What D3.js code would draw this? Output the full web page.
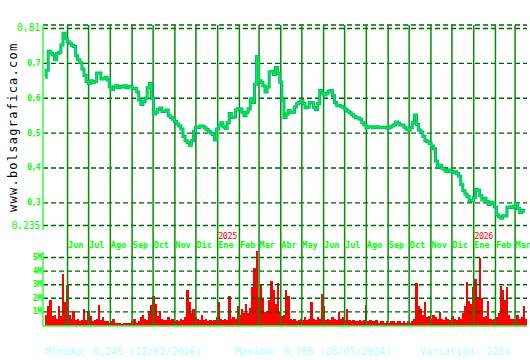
<!DOCTYPE html>
<html>
<head>
<meta charset="utf-8">
<script src="https://cdn.jsdelivr.net/npm/d3@7"></script>
<style>
  body { margin: 0; background: #fff; }
  svg text { font-family: "DejaVu Sans Mono", monospace; }
</style>
</head>
<body>
<div id="chart"></div>
<script>
// data: one sample every 3 days starting 30/04/2024
var startDate = new Date(2024, 3, 30);
var stepDays = 3;

var closes = [
  0.66, 0.68, 0.735, 0.73, 0.724, 0.71, 0.728, 0.732, 0.753, 0.786,
  0.772, 0.762, 0.758, 0.752, 0.748, 0.722, 0.71, 0.702, 0.684, 0.665,
  0.648, 0.642, 0.65, 0.646, 0.648, 0.672, 0.672, 0.655, 0.656, 0.66,
  0.652, 0.633, 0.624, 0.632, 0.636, 0.63, 0.634, 0.632, 0.636, 0.63,
  0.634, 0.632, 0.628, 0.628, 0.618, 0.595, 0.582, 0.59, 0.6, 0.63,
  0.642, 0.6, 0.555, 0.56, 0.568, 0.572, 0.562, 0.563, 0.566, 0.55,
  0.545, 0.54, 0.533, 0.526, 0.52, 0.512, 0.49, 0.478, 0.473, 0.465,
  0.478, 0.505, 0.517, 0.516, 0.52, 0.52, 0.515, 0.51, 0.505, 0.5,
  0.496, 0.48, 0.512, 0.523, 0.53, 0.518, 0.513, 0.53, 0.556, 0.545,
  0.546, 0.566, 0.57, 0.569, 0.56, 0.55, 0.56, 0.57, 0.598, 0.588,
  0.64, 0.72, 0.65, 0.645, 0.636, 0.618, 0.632, 0.675, 0.677, 0.668,
  0.688, 0.671, 0.646, 0.595, 0.545, 0.555, 0.565, 0.56, 0.56, 0.575,
  0.584, 0.588, 0.593, 0.585, 0.573, 0.574, 0.588, 0.587, 0.574, 0.567,
  0.585, 0.622, 0.614, 0.609, 0.614, 0.62, 0.622, 0.608, 0.588, 0.58,
  0.579, 0.576, 0.573, 0.568, 0.563, 0.558, 0.553, 0.548, 0.544, 0.543,
  0.54, 0.53, 0.523, 0.515, 0.518, 0.518, 0.515, 0.517, 0.518, 0.515,
  0.515, 0.517, 0.516, 0.514, 0.517, 0.52, 0.523, 0.532, 0.528, 0.523,
  0.523, 0.517, 0.512, 0.509, 0.515, 0.53, 0.552, 0.525, 0.509, 0.503,
  0.49, 0.478, 0.475, 0.47, 0.463, 0.455, 0.42, 0.404, 0.408, 0.399,
  0.394, 0.39, 0.394, 0.39, 0.387, 0.389, 0.384, 0.376, 0.352, 0.335,
  0.325, 0.318, 0.307, 0.306, 0.315, 0.338, 0.336, 0.32, 0.308, 0.313,
  0.304, 0.295, 0.302, 0.299, 0.288, 0.266, 0.26, 0.256, 0.263, 0.262,
  0.287, 0.288, 0.286, 0.29, 0.298, 0.284, 0.272, 0.278, 0.275
];

// volume in millions
var volumes = [
  0.8, 1.4, 1.9, 0.7, 0.8, 0.5, 1.4, 0.7, 3.8, 1.7,
  3.0, 0.8, 0.5, 1.1, 0.4, 0.5, 0.3, 0.4, 1.2, 0.4,
  1.1, 0.7, 0.3, 0.4, 0.5, 1.5, 0.4, 0.6, 0.3, 0.3,
  0.2, 0.3, 0.5, 0.2, 0.15, 0.15, 0.1, 0.2, 0.15, 0.2,
  0.2, 0.3, 0.5, 0.2, 0.3, 0.6, 0.8, 0.5, 0.4, 1.1,
  1.5, 2.2, 1.6, 0.7, 1.1, 0.5, 0.4, 0.4, 0.6, 0.4,
  0.5, 0.3, 0.4, 0.3, 0.5, 0.4, 0.6, 2.6, 1.7, 0.9,
  1.2, 0.6, 0.5, 0.4, 0.8, 0.4, 0.5, 0.3, 0.4, 0.3,
  0.4, 0.6, 1.7, 0.5, 0.4, 0.5, 0.4, 2.2, 0.5, 0.6,
  0.5, 1.4, 0.8, 1.2, 0.9, 1.6, 0.9, 1.3, 2.85, 4.2,
  5.5, 2.1, 3.0, 2.0, 1.0, 1.1, 1.9, 3.3, 2.6, 1.6,
  3.1, 1.0, 0.7, 0.8, 2.6, 2.2, 0.5, 0.4, 0.5, 0.3,
  0.4, 0.5, 0.4, 0.6, 0.4, 0.5, 1.7, 0.5, 0.4, 0.6,
  0.5, 2.3, 1.4, 0.4, 0.5, 0.4, 0.6, 0.5, 0.4, 1.0,
  0.5, 0.6, 0.4, 1.2, 0.4, 0.3, 0.4, 0.3, 0.3, 0.4,
  0.3, 0.4, 1.5, 0.3, 0.4, 0.3, 0.3, 0.4, 0.2, 0.3,
  0.3, 0.2, 0.3, 0.2, 0.3, 0.3, 0.2, 0.3, 0.3, 0.2,
  0.3, 0.2, 0.3, 0.2, 0.3, 0.5, 3.1, 1.4, 1.2, 0.8,
  1.7, 0.6, 0.7, 0.5, 0.8, 0.6, 0.5, 1.0, 0.5, 0.4,
  0.6, 0.5, 0.4, 0.7, 0.5, 0.4, 0.6, 0.5, 0.9, 1.4,
  3.2, 1.8, 1.6, 2.85, 3.4, 2.1, 5.0, 2.0, 0.6, 0.7,
  1.8, 0.5, 0.4, 0.5, 0.6, 0.9, 2.9, 2.6, 1.9, 2.85,
  0.8, 0.5, 0.5, 0.4, 0.8, 0.5, 0.6, 1.4, 0.5
];

var monthNames = ["Ene", "Feb", "Mar", "Abr", "May", "Jun", "Jul", "Ago", "Sep", "Oct", "Nov", "Dic"];
var priceTicks = [0.81, 0.8, 0.7, 0.6, 0.5, 0.4, 0.3, 0.235];
var priceTickLabels = ["0,81", "", "0,7", "0,6", "0,5", "0,4", "0,3", "0,235"];
var volTicks = [1, 2, 3, 4, 5];
var volTickLabels = ["1M", "2M", "3M", "4M", "5M"];
var summary = ["Minimo: 0,245 (12/02/2026)", "Maximo: 0,786 (28/05/2024)", "Variación: 221%"];
var siteName = "www.bolsagrafica.com";

var width = 530, height = 360;
var plotLeft = 43, plotRight = 527, plotTop = 25;

var svg = d3.select("#chart")
  .append("svg")
    .attr("width", width)
    .attr("height", height);

var dates = closes.map(function(d, i) { return d3.timeDay.offset(startDate, i * stepDays); });

var x = d3.scaleTime()
  .domain([new Date(2024, 3, 27), new Date(2026, 2, 18)])
  .range([plotLeft, plotRight]);

var y = d3.scaleLinear()
  .domain([0.235, 0.81])
  .range([225.5, plotTop]);

var yv = d3.scaleLinear()
  .domain([0, 5])
  .range([325.5, 257.5]);

var months = d3.timeMonth.range(new Date(2024, 5, 1), new Date(2026, 2, 2));

// volume bars
svg.append("g")
  .selectAll("rect")
  .data(volumes)
  .enter()
  .append("rect")
    .attr("x", function(d, i) { return x(dates[i]); })
    .attr("width", function(d, i) { return x(d3.timeDay.offset(dates[i], stepDays)) - x(dates[i]) + 0.3; })
    .attr("y", function(d) { return yv(d); })
    .attr("height", function(d) { return yv(0) - yv(d); })
    .attr("fill", "#ff0000")
    .attr("shape-rendering", "crispEdges");

// dashed horizontal grid
svg.append("g")
  .selectAll("line")
  .data(priceTicks)
  .enter()
  .append("line")
    .attr("x1", plotLeft).attr("x2", plotRight)
    .attr("y1", function(d) { return y(d); })
    .attr("y2", function(d) { return y(d); })
    .attr("stroke", "#006400")
    .attr("stroke-width", 1.4)
    .attr("stroke-dasharray", "5,3");

svg.append("g")
  .selectAll("line")
  .data(volTicks)
  .enter()
  .append("line")
    .attr("x1", plotLeft).attr("x2", plotRight)
    .attr("y1", function(d) { return yv(d); })
    .attr("y2", function(d) { return yv(d); })
    .attr("stroke", "#006400")
    .attr("stroke-width", 1.4)
    .attr("stroke-dasharray", "5,3");

// month lines
svg.append("g")
  .selectAll("line")
  .data(months)
  .enter()
  .append("line")
    .attr("x1", function(d) { return x(d); })
    .attr("x2", function(d) { return x(d); })
    .attr("y1", plotTop).attr("y2", 326)
    .attr("stroke", "#009000")
    .attr("stroke-width", 1.5);

// month labels
svg.append("g")
  .selectAll("text")
  .data(months)
  .enter()
  .append("text")
    .attr("x", function(d) { return x(d) + 0.5; })
    .attr("y", 247.5)
    .attr("fill", "#00ff00")
    .style("font-size", "8.5px")
    .style("font-weight", "bold")
    .text(function(d) { return monthNames[d.getMonth()]; });

// year labels
svg.append("g")
  .selectAll("text")
  .data(months.filter(function(d) { return d.getMonth() === 0; }))
  .enter()
  .append("text")
    .attr("x", function(d) { return x(d) + 0.5; })
    .attr("y", 239)
    .attr("fill", "#ff0000")
    .style("font-size", "8.5px")
    .style("letter-spacing", "-0.4px")
    .text(function(d) { return d.getFullYear(); });

// price: range band in teal, close in green
var line = d3.line()
  .curve(d3.curveStep)
  .x(function(d, i) { return x(dates[i]); })
  .y(function(d) { return y(d); });

svg.append("path")
  .datum(closes)
  .attr("d", line)
  .attr("fill", "none")
  .attr("stroke", "#00a8a8")
  .attr("stroke-width", 3);

svg.append("path")
  .datum(closes)
  .attr("d", line)
  .attr("fill", "none")
  .attr("stroke", "#00ff00")
  .attr("stroke-width", 1.2);

// axis lines
svg.append("line")
  .attr("x1", plotLeft).attr("x2", plotLeft)
  .attr("y1", plotTop).attr("y2", 230)
  .attr("stroke", "#33ff33").attr("stroke-width", 1.5);

svg.append("line")
  .attr("x1", plotLeft).attr("x2", plotLeft)
  .attr("y1", 252).attr("y2", 326.5)
  .attr("stroke", "#33ff33").attr("stroke-width", 1.5);

svg.append("line")
  .attr("x1", plotLeft).attr("x2", plotRight)
  .attr("y1", 326).attr("y2", 326)
  .attr("stroke", "#33ff33").attr("stroke-width", 1.5);

// price tick labels
svg.append("g")
  .selectAll("text")
  .data(priceTicks)
  .enter()
  .append("text")
    .attr("x", 40)
    .attr("y", function(d, i) { return i === 0 ? y(d) + 2 : y(d); })
    .attr("text-anchor", "end")
    .attr("dominant-baseline", "central")
    .attr("fill", "#00ff00")
    .style("font-size", function(d, i) { return (i === 0 || i === priceTicks.length - 1) ? "10px" : "8px"; })
    .style("font-weight", function(d, i) { return (i === 0 || i === priceTicks.length - 1) ? "normal" : "bold"; })
    .style("letter-spacing", function(d, i) { return (i === 0 || i === priceTicks.length - 1) ? "-0.3px" : "-0.6px"; })
    .text(function(d, i) { return priceTickLabels[i]; });

// volume tick labels
svg.append("g")
  .selectAll("text")
  .data(volTicks)
  .enter()
  .append("text")
    .attr("x", 41.5)
    .attr("y", function(d) { return yv(d); })
    .attr("text-anchor", "end")
    .attr("dominant-baseline", "central")
    .attr("fill", "#00ff00")
    .style("font-size", "8px")
    .style("font-weight", "bold")
    .style("letter-spacing", "-0.5px")
    .text(function(d, i) { return volTickLabels[i]; });

// site name, vertical
svg.append("text")
  .attr("transform", "translate(16.5,212) rotate(-90)")
  .attr("fill", "#000")
  .style("font-size", "12px")
  .style("letter-spacing", "1.25px")
  .text(siteName);

// summary line
var summaryX = [45, 235, 420];
svg.append("g")
  .selectAll("text")
  .data(summary)
  .enter()
  .append("text")
    .attr("x", function(d, i) { return summaryX[i]; })
    .attr("y", 355)
    .attr("fill", "#aaffff")
    .style("font-size", "10px")
    .text(function(d) { return d; });
</script>
</body>
</html>
